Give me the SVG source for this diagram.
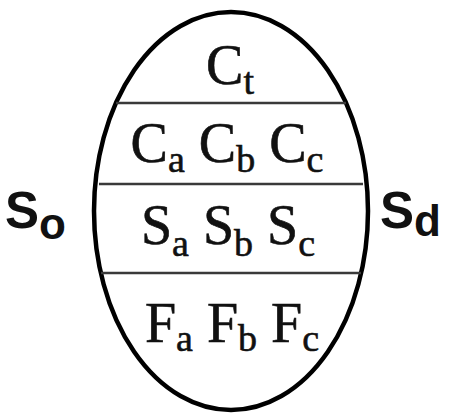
<svg xmlns="http://www.w3.org/2000/svg" width="450" height="415" viewBox="0 0 450 415">
<style>
.m{font-family:"Liberation Serif","Times New Roman",serif;font-size:56px;fill:#111;stroke:#111;stroke-width:0.6;text-anchor:middle}
.s{font-size:38px}
.b{font-family:"Liberation Sans",Arial,sans-serif;font-weight:bold;font-size:51px;fill:#111}
.bs{font-size:44px}
.div{stroke:#3a3a3a;stroke-width:2.5}
</style>
<rect width="450" height="415" fill="#fff"/>
<g id="shape">
<ellipse cx="231" cy="211" rx="137" ry="199" fill="none" stroke="#000" stroke-width="4.5"/>
</g>
<g id="connectors">
<line class="div" x1="116" y1="103" x2="346" y2="103"/>
<line class="div" x1="99" y1="184" x2="363" y2="184"/>
<line class="div" x1="101" y1="273" x2="361" y2="273"/>
</g>
<g id="Ct"><text class="m" x="230" y="84">C<tspan class="s" dy="10">t</tspan></text></g>
<g id="Crow"><text class="m" x="227" y="162">C<tspan class="s" dy="10">a</tspan><tspan dy="-10"> C</tspan><tspan class="s" dy="10">b</tspan><tspan dy="-10"> C</tspan><tspan class="s" dy="10">c</tspan></text></g>
<g id="Srow"><text class="m" x="228" y="244">S<tspan class="s" dy="12">a</tspan><tspan dy="-12"> S</tspan><tspan class="s" dy="12">b</tspan><tspan dy="-12"> S</tspan><tspan class="s" dy="12">c</tspan></text></g>
<g id="Frow"><text class="m" x="232" y="342">F<tspan class="s" dy="9">a</tspan><tspan dy="-9"> F</tspan><tspan class="s" dy="9">b</tspan><tspan dy="-9"> F</tspan><tspan class="s" dy="9">c</tspan></text></g>
<g id="So"><text class="b" x="5" y="228">S<tspan class="bs" dy="11">o</tspan></text></g>
<g id="Sd"><text class="b" x="380" y="228">S<tspan class="bs" dy="8">d</tspan></text></g>
</svg>
